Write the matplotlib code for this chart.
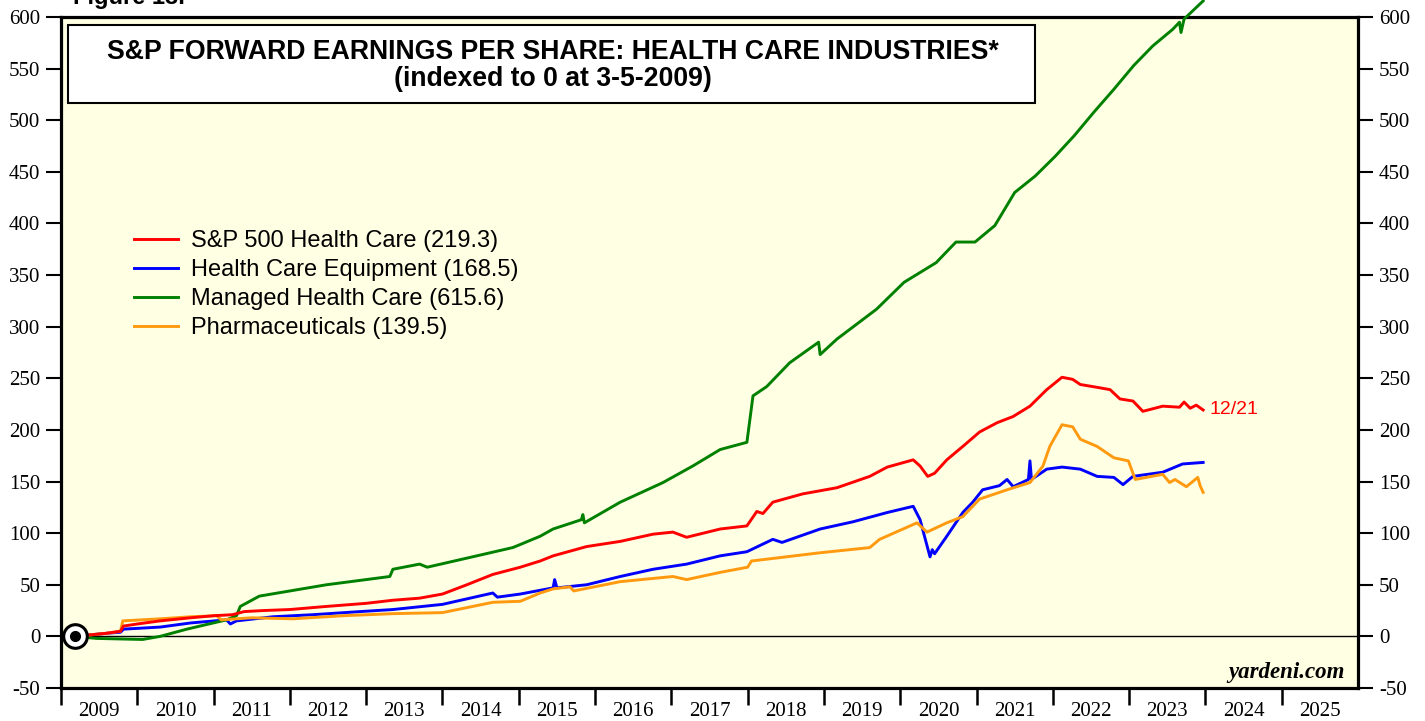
import matplotlib
matplotlib.use('Agg')
import matplotlib.pyplot as plt
from matplotlib.patches import Rectangle
import numpy as np

plt.rcParams['axes.unicode_minus'] = False

# decimal years, indexed to 0 at 3-5-2009
hc_x = [2009.18, 2009.6, 2009.78, 2009.82, 2010.0, 2010.3, 2010.7, 2011.0, 2011.25, 2011.4,
        2011.65, 2012.0, 2012.48, 2013.0, 2013.35, 2013.7, 2014.0, 2014.32, 2014.66, 2015.02,
        2015.28, 2015.45, 2015.89, 2016.33, 2016.76, 2017.02, 2017.2, 2017.64, 2017.99, 2018.12,
        2018.2, 2018.33, 2018.72, 2019.17, 2019.6, 2019.83, 2020.17, 2020.26, 2020.36, 2020.45,
        2020.61, 2020.82, 2021.04, 2021.27, 2021.48, 2021.7, 2021.92, 2022.12, 2022.26, 2022.36,
        2022.6, 2022.75, 2022.88, 2023.05, 2023.18, 2023.44, 2023.66, 2023.72, 2023.8, 2023.88,
        2023.97]
hc_y = [0, 3, 5, 10, 12, 15, 18, 20, 21, 24,
        25, 26, 29, 32, 35, 37, 41, 50, 60, 67,
        73, 78, 87, 92, 99, 101, 96, 104, 107, 121,
        119, 130, 138, 144, 155, 164, 171, 165, 155, 158,
        171, 184, 198, 207, 213, 223, 239, 251, 249, 244,
        241, 239, 230, 228, 218, 223, 222, 227, 221, 224,
        219.3]

eq_x = [2009.18, 2009.6, 2009.78, 2009.82, 2010.3, 2010.7, 2011.17, 2011.22, 2011.3, 2011.78,
        2012.3, 2012.92, 2013.35, 2014.0, 2014.66, 2014.72, 2015.02, 2015.45, 2015.47, 2015.5,
        2015.89, 2016.33, 2016.76, 2017.2, 2017.64, 2017.99, 2018.33, 2018.45, 2018.95, 2019.38,
        2019.83, 2020.17, 2020.26, 2020.39, 2020.42, 2020.45, 2020.61, 2020.82, 2020.95, 2021.08,
        2021.3, 2021.4, 2021.48, 2021.68, 2021.7, 2021.72, 2021.92, 2022.12, 2022.36, 2022.58,
        2022.8, 2022.92, 2023.05, 2023.44, 2023.7, 2023.97]
eq_y = [0, 3, 4, 7, 9, 13, 16, 12, 15, 19,
        21, 24, 26, 31, 42, 38, 41, 47, 55, 47,
        50, 58, 65, 70, 78, 82, 94, 91, 104, 111,
        120, 126, 113, 77, 84, 80, 97, 120, 130, 142,
        146, 152, 145, 152, 170, 152, 162, 164, 162, 155,
        154, 147, 155, 159, 167, 168.5]

mc_x = [2009.18, 2009.47, 2010.07, 2010.3, 2010.65, 2011.17, 2011.3, 2011.35, 2011.6, 2012.0,
        2012.48, 2013.0, 2013.31, 2013.35, 2013.7, 2013.8, 2014.45, 2014.92, 2015.02, 2015.28,
        2015.45, 2015.82, 2015.84, 2015.86, 2016.33, 2016.89, 2017.28, 2017.64, 2017.99, 2018.07,
        2018.25, 2018.55, 2018.93, 2018.95, 2019.17, 2019.69, 2020.05, 2020.47, 2020.73, 2020.98,
        2021.24, 2021.5, 2021.77, 2022.03, 2022.28, 2022.54, 2022.8, 2023.06, 2023.31, 2023.57,
        2023.66, 2023.68, 2023.72, 2023.97]
mc_y = [0, -2, -3, 0, 7, 16, 20, 29, 39, 44,
        50, 55, 58, 65, 70, 67, 78, 86, 89, 97,
        104, 113, 118, 110, 130, 149, 165, 181, 188, 233,
        242, 265, 285, 273, 288, 317, 343, 362, 382, 382,
        398, 430, 446, 465, 485, 508, 530, 553, 572, 588,
        595, 585, 598, 615.6]

ph_x = [2009.18, 2009.6, 2009.78, 2009.81, 2010.3, 2010.7, 2011.04, 2011.1, 2011.5, 2012.04,
        2012.7, 2013.35, 2014.0, 2014.66, 2015.02, 2015.28, 2015.45, 2015.67, 2015.72, 2016.33,
        2017.02, 2017.2, 2017.64, 2018.0, 2018.05, 2018.95, 2019.6, 2019.73, 2020.22, 2020.35,
        2020.61, 2020.82, 2021.04, 2021.4, 2021.7, 2021.87, 2021.96, 2022.12, 2022.26, 2022.36,
        2022.58, 2022.8, 2022.99, 2023.08, 2023.44, 2023.53, 2023.6, 2023.75, 2023.9, 2023.93,
        2023.97]
ph_y = [0, 3, 5, 15, 17, 19, 20, 16, 18, 17,
        20, 22, 23, 33, 34, 42, 46, 48, 44, 53,
        58, 55, 62, 67, 73, 81, 86, 94, 110, 101,
        110, 116, 133, 142, 149, 165, 184, 205, 203, 191,
        184, 173, 170, 152, 157, 149, 152, 145, 154, 146,
        139.5]

labels = ['S&P 500 Health Care (219.3)', 'Health Care Equipment (168.5)',
          'Managed Health Care (615.6)', 'Pharmaceuticals (139.5)']
years = list(range(2009, 2026))

fig = plt.figure(figsize=(14.25, 7.21), dpi=100)
ax = fig.add_axes([0.0428, 0.0458, 0.9102, 0.9306])
ax.set_facecolor('#FFFFE3')

ax.axhline(0, color='black', lw=1.0, zorder=1)

lw = 2.1
l1, = ax.plot(hc_x, hc_y, color='#FF0000', lw=lw, zorder=4)
l2, = ax.plot(eq_x, eq_y, color='#0000FF', lw=lw, zorder=3)
l3, = ax.plot(mc_x, mc_y, color='#008000', lw=lw, zorder=3, clip_on=False)
l4, = ax.plot(ph_x, ph_y, color='#FF9A10', lw=lw, zorder=3)

# start marker
ax.plot([hc_x[0]], [0], 'o', ms=17, mfc='white', mec='black', mew=2.2, zorder=6, clip_on=False)
ax.plot([hc_x[0]], [0], 'o', ms=7, color='black', zorder=7, clip_on=False)

ax.set_xlim(2009, 2026)
ax.set_ylim(-50, 600)

ax.set_xticks(years)
ax.set_xticklabels([])
ax.set_xticks([y + 0.5 for y in years], minor=True)
ax.set_xticklabels([str(y) for y in years], minor=True, fontsize=15, family='Liberation Serif')
ax.tick_params(axis='x', which='major', direction='out', length=12, width=1.8)
ax.tick_params(axis='x', which='minor', length=0, pad=10)

ax.set_yticks(np.arange(-50, 601, 50))
ax.tick_params(axis='y', which='both', direction='out', length=11, width=1.5,
               left=True, right=True, labelleft=True, labelright=True, pad=4)
for t in ax.get_yticklabels():
    t.set_family('Liberation Serif')
    t.set_fontsize(15)

for s in ax.spines.values():
    s.set_linewidth(2.3)

leg = ax.legend([l1, l2, l3, l4], labels, loc='upper left', bbox_to_anchor=(0.040, 0.714),
                frameon=False, handlelength=1.86, handletextpad=0.55, labelspacing=0.3,
                prop={'family': 'Liberation Sans', 'size': 17})
for h in leg.get_lines():
    h.set_linewidth(2.1)

ax.text(hc_x[-1] + 0.08, hc_y[-1], '12/21', color='#FF0000', fontsize=14,
        family='Liberation Sans', va='center', ha='left')

ax.text(0.99, 0.015, 'yardeni.com', transform=ax.transAxes, ha='right', va='baseline',
        fontsize=16.5, family='Liberation Serif', fontweight='bold', fontstyle='italic')

# title box
fig.add_artist(Rectangle((68 / 1425, 1 - 103 / 721), 967 / 1425, 78 / 721,
                         transform=fig.transFigure, facecolor='white', edgecolor='black',
                         lw=1.5, zorder=10))
fig.text(553 / 1425, 1 - 52 / 721, 'S&P FORWARD EARNINGS PER SHARE: HEALTH CARE INDUSTRIES*',
         ha='center', va='center', fontsize=19.2, fontweight='bold', family='Liberation Sans',
         zorder=11)
fig.text(553 / 1425, 1 - 79 / 721, '(indexed to 0 at 3-5-2009)',
         ha='center', va='center', fontsize=19.2, fontweight='bold', family='Liberation Sans',
         zorder=11)

fig.text(73 / 1425, 0.995, 'Figure 13.', ha='left', va='baseline', fontsize=17,
         fontweight='bold', family='Liberation Sans')

fig.savefig('out.png', dpi=100)
